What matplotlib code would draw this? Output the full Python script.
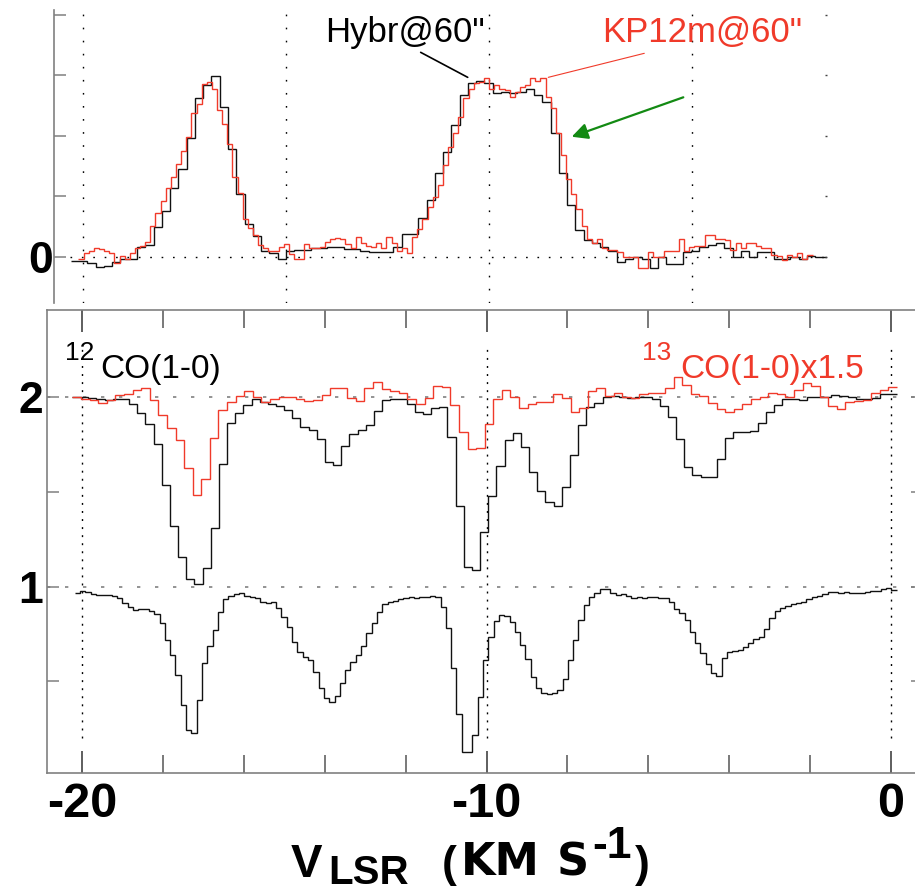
import numpy as np
import matplotlib
matplotlib.use("Agg")
import matplotlib.pyplot as plt
from matplotlib.ticker import MultipleLocator

plt.rcParams['font.family'] = ['Liberation Sans', 'DejaVu Sans']

# ---------------- data ----------------
# Top panel: emission spectra (arbitrary units, ticks at 0..4)
hybr_v0, hybr_dv = -20.308, 0.204
hybr_T = [-0.066, -0.066, -0.11, -0.165, -0.149, -0.094, -0.044, -0.044, 0.165, 0.193,
          0.496, 0.755, 1.13, 1.45, 1.97, 2.62, 2.84, 2.99, 2.48, 1.78,
          1.04, 0.535, 0.342, 0.094, 0.056, -0.038, 0.099, 0.11, 0.11, 0.138,
          0.138, 0.154, 0.154, 0.121, 0.121, 0.099, 0.072, 0.072, 0.072, 0.165,
          0.369, 0.369, 0.634, 0.937, 1.378, 1.725, 2.177, 2.67, 2.865, 2.91,
          2.865, 2.70, 2.73, 2.71, 2.73, 2.77, 2.67, 2.56, 2.04, 1.378,
          0.854, 0.44, 0.28, 0.23, 0.154, 0.10, -0.08, -0.03, -0.01, -0.03,
          -0.19, 0.0, -0.12, -0.12, 0.07, 0.10, 0.165, 0.19, 0.22, 0.14,
          0.0, 0.10, 0.0, 0.08, 0.08, -0.03, -0.03, 0.0, -0.03, 0.01,
          -0.01, -0.01]

kp12_v0, kp12_dv = -20.12, 0.1266
kp12_T = [-0.035, 0.055, 0.10, 0.14, 0.12, 0.10, 0.065, -0.10, 0.01, -0.03,
          0.055, 0.14, 0.18, 0.25, 0.50, 0.72, 0.92, 1.13, 1.32, 1.54,
          1.75, 1.98, 2.38, 2.53, 2.86, 2.89, 2.77, 2.42, 2.19, 1.87,
          1.32, 1.06, 0.62, 0.48, 0.36, 0.19, 0.15, 0.10, 0.10, 0.165,
          0.21, 0.04, -0.03, -0.03, 0.21, 0.15, 0.14, 0.165, 0.24, 0.30,
          0.31, 0.29, 0.21, 0.14, 0.33, 0.23, 0.18, 0.165, 0.23, 0.15,
          0.33, 0.22, 0.10, 0.14, 0.055, 0.32, 0.45, 0.63, 0.83, 0.98,
          1.18, 1.51, 1.82, 2.04, 2.31, 2.62, 2.78, 2.87, 2.89, 2.96,
          2.78, 2.84, 2.77, 2.76, 2.64, 2.72, 2.80, 2.84, 2.96, 2.91,
          2.96, 2.64, 2.45, 2.04, 1.68, 1.28, 1.04, 0.79, 0.50, 0.30,
          0.23, 0.29, 0.15, 0.11, 0.11, 0.07, 0.0, 0.0, 0.0, -0.19,
          -0.19, 0.07, 0.0, 0.0, 0.10, 0.10, 0.10, 0.29, 0.10, 0.165,
          0.18, 0.18, 0.36, 0.36, 0.30, 0.30, 0.27, 0.11, 0.23, 0.14,
          0.23, 0.23, 0.18, 0.14, 0.14, 0.03, 0.01, -0.055, 0.03, 0.0,
          0.065, -0.045, 0.03]

# Bottom panel: absorption spectra (offset 2: upper, offset 1: lower)
co12_v0, co12_dv = -20.258, 0.202
co12_upper = [2.000, 1.997, 1.995, 1.988, 1.983, 1.986, 1.988, 1.964, 1.916, 1.855,
              1.749, 1.535, 1.319, 1.157, 1.038, 1.012, 1.099, 1.310, 1.644, 1.863,
              1.916, 1.955, 1.988, 1.972, 1.960, 1.951, 1.930, 1.886, 1.839, 1.825,
              1.776, 1.658, 1.640, 1.742, 1.802, 1.825, 1.851, 1.925, 1.983, 1.988,
              1.986, 1.964, 1.918, 1.907, 1.942, 1.944, 1.790, 1.424, 1.105, 1.087,
              1.286, 1.479, 1.635, 1.772, 1.811, 1.737, 1.605, 1.503, 1.447, 1.426,
              1.523, 1.693, 1.851, 1.944, 1.969, 2.000, 2.006, 2.000, 1.995, 2.000,
              2.000, 1.988, 1.951, 1.895, 1.776, 1.632, 1.588, 1.579, 1.579, 1.672,
              1.784, 1.812, 1.816, 1.819, 1.860, 1.918, 1.956, 1.986, 1.988, 1.983,
              1.997, 2.000, 2.000, 2.009, 2.004, 1.997, 1.986, 1.986, 1.995, 2.013,
              2.014]

co13_v0, co13_dv = -20.244, 0.2125
co13_upper = [2.000, 1.988, 1.983, 1.969, 1.983, 2.009, 2.013, 2.035, 2.044, 1.983,
              1.904, 1.837, 1.772, 1.626, 1.482, 1.565, 1.784, 1.930, 1.974, 2.006,
              2.030, 2.000, 1.974, 1.986, 1.997, 2.000, 1.988, 1.978, 1.983, 2.009,
              2.044, 2.044, 1.992, 1.978, 2.044, 2.079, 2.041, 2.032, 2.018, 1.988,
              1.962, 1.992, 2.057, 2.051, 1.956, 1.812, 1.723, 1.732, 1.856, 1.986,
              2.035, 2.000, 1.939, 1.962, 1.974, 1.974, 2.013, 1.992, 1.921, 1.939,
              2.030, 2.044, 2.004, 2.018, 2.000, 1.992, 2.013, 2.021, 2.021, 2.044,
              2.106, 2.062, 2.013, 2.006, 1.965, 1.934, 1.921, 1.935, 1.962, 1.986,
              2.000, 2.021, 2.013, 2.000, 2.035, 2.074, 2.057, 1.997, 1.951, 1.934,
              1.970, 1.978, 1.983, 2.021, 2.035, 2.053]

low_v0, low_dv = -20.189, 0.1312
co12_lower = [0.964, 0.978, 0.973, 0.961, 0.955, 0.955, 0.955, 0.952, 0.938, 0.911,
              0.894, 0.876, 0.880, 0.880, 0.871, 0.855, 0.806, 0.718, 0.639, 0.534,
              0.376, 0.244, 0.230, 0.402, 0.595, 0.688, 0.771, 0.868, 0.933, 0.950,
              0.959, 0.964, 0.950, 0.947, 0.941, 0.920, 0.911, 0.920, 0.885, 0.841,
              0.789, 0.710, 0.657, 0.630, 0.613, 0.551, 0.464, 0.411, 0.393, 0.423,
              0.490, 0.560, 0.604, 0.639, 0.688, 0.753, 0.810, 0.868, 0.908, 0.920,
              0.924, 0.933, 0.938, 0.943, 0.941, 0.947, 0.943, 0.950, 0.947, 0.890,
              0.780, 0.569, 0.327, 0.130, 0.130, 0.218, 0.420, 0.613, 0.736, 0.820,
              0.850, 0.845, 0.815, 0.759, 0.692, 0.618, 0.525, 0.464, 0.437, 0.434,
              0.441, 0.455, 0.513, 0.613, 0.718, 0.824, 0.903, 0.947, 0.968, 0.985,
              0.985, 0.968, 0.955, 0.959, 0.950, 0.941, 0.943, 0.941, 0.947, 0.947,
              0.941, 0.938, 0.920, 0.880, 0.859, 0.824, 0.762, 0.701, 0.648, 0.592,
              0.546, 0.530, 0.622, 0.653, 0.662, 0.666, 0.683, 0.701, 0.722, 0.732,
              0.774, 0.832, 0.873, 0.885, 0.897, 0.906, 0.915, 0.920, 0.933, 0.943,
              0.950, 0.961, 0.973, 0.973, 0.968, 0.973, 0.968, 0.964, 0.968, 0.973,
              0.976, 0.978, 0.985, 0.991, 0.982]

x_ticks = [-20, -10, 0]
x_ticklabels = ['-20', '-10', '0']
top_yticks = [0, 1, 2, 3, 4]
top_yticklabels = ['0', '', '', '', '']
bot_yticks = [0.5, 1.0, 1.5, 2.0]
bot_yticklabels = ['', '1', '', '2']
top_vlines = [-20, -15, -10, -5]
bot_vlines = [-20, -10, 0]
bot_hlines = [1, 2]


def edges(v0, dv, n):
    return v0 + dv * np.arange(n + 1)


W, H = 915, 893
fig = plt.figure(figsize=(W / 100, H / 100), dpi=100)


def fx(px):
    return px / W


def fy(py):
    return 1 - py / H


BLACK = '#111111'
RED = '#f03a2a'
GREEN = '#138a13'
SPINE = '#808080'

# ---------------- top panel ----------------
axt = fig.add_axes([fx(54), fy(303), fx(827) - fx(54), fy(10) - fy(303)])
axt.set_xlim(-20.723, -1.659)
axt.set_ylim(-0.765, 4.078)
for s in ['top', 'bottom', 'right']:
    axt.spines[s].set_visible(False)
axt.spines['left'].set_color(SPINE)
axt.spines['left'].set_linewidth(1.2)
axt.set_xticks([])
axt.set_yticks(top_yticks)
axt.set_yticklabels(top_yticklabels, fontsize=32, fontweight='bold')
axt.tick_params(axis='y', direction='in', length=8.5, width=1.1, color=SPINE, pad=0.5)

axtr = axt.twinx()
axtr.set_ylim(axt.get_ylim())
for s in axtr.spines.values():
    s.set_visible(False)
axtr.set_yticks(top_yticks)
axtr.set_yticklabels([])
axtr.tick_params(axis='y', direction='in', length=1.5, width=1.0, color='#444444')

for v in top_vlines:
    axt.axvline(v, color='k', lw=1.0, ls=(0, (1.2, 8.2)), zorder=1)
axt.hlines(0, -20.33, -1.66, color='k', lw=1.0, ls=(0, (1.2, 7.0)), zorder=1)

axt.stairs(hybr_T, edges(hybr_v0, hybr_dv, len(hybr_T)), baseline=None,
           color=BLACK, lw=1.0, zorder=3)
axt.stairs(kp12_T, edges(kp12_v0, kp12_dv, len(kp12_T)), baseline=None,
           color=RED, lw=1.0, zorder=4)

axt.text(-14.04, 3.549, 'Hybr@60"', fontsize=25, color='black', ha='left', va='baseline',
         clip_on=False)
axt.text(-7.21, 3.549, 'KP12m@60"', fontsize=25, color=RED, ha='left', va='baseline',
         clip_on=False)
axt.annotate('', xy=(-10.52, 2.965), xytext=(-11.68, 3.378),
             arrowprops=dict(arrowstyle='-', color='black', lw=1.2, shrinkA=0, shrinkB=0))
axt.annotate('', xy=(-8.533, 2.965), xytext=(-6.165, 3.362),
             arrowprops=dict(arrowstyle='-', color=RED, lw=0.8, shrinkA=0, shrinkB=0))
axt.annotate('', xy=(-7.955, 1.983), xytext=(-5.203, 2.635),
             arrowprops=dict(arrowstyle='-|>', color=GREEN, lw=1.6, mutation_scale=24,
                             shrinkA=0, shrinkB=0))

# ---------------- bottom panel ----------------
axb = fig.add_axes([fx(46.5), fy(772.7), fx(916) - fx(46.5), fy(310) - fy(772.7)])
axb.set_xlim(-20.886, 0.626)
axb.set_ylim(0.019, 2.457)
for s in ['top', 'bottom', 'left']:
    axb.spines[s].set_color(SPINE)
    axb.spines[s].set_linewidth(1.2)
axb.spines['right'].set_visible(False)

axb.set_xticks(x_ticks)
axb.set_xticklabels(x_ticklabels, fontsize=35, fontweight='bold')
axb.xaxis.set_minor_locator(MultipleLocator(2))
axb.tick_params(axis='x', which='major', direction='in', top=True, length=16, width=1.1,
                color='#333333', pad=7)
axb.tick_params(axis='x', which='minor', direction='in', top=True, length=13, width=1.1,
                color='#555555')
axb.set_yticks(bot_yticks)
axb.set_yticklabels(bot_yticklabels, fontsize=32, fontweight='bold')
axb.tick_params(axis='y', direction='in', length=8.5, width=1.1, color=SPINE, pad=2.5)

axbr = axb.twinx()
axbr.set_ylim(axb.get_ylim())
for s in axbr.spines.values():
    s.set_visible(False)
axbr.set_yticks(bot_yticks)
axbr.set_yticklabels([])
axbr.tick_params(axis='y', direction='in', length=3.5, width=1.1, color=SPINE)

for h in bot_hlines:
    axb.axhline(h, color='#808080', lw=1.2, ls=(0, (2.0, 8.8)), zorder=1)
for v in bot_vlines:
    axb.axvline(v, ymin=0.075, ymax=0.925, color='k', lw=1.0, ls=(0, (1.4, 4.4)), zorder=1)

axb.stairs(co12_upper, edges(co12_v0, co12_dv, len(co12_upper)), baseline=None,
           color=BLACK, lw=1.0, zorder=3)
axb.stairs(co13_upper, edges(co13_v0, co13_dv, len(co13_upper)), baseline=None,
           color=RED, lw=1.0, zorder=4)
axb.stairs(co12_lower, edges(low_v0, low_dv, len(co12_lower)), baseline=None,
           color=BLACK, lw=1.0, zorder=3)

axb.text(-20.43, 2.193, '12', fontsize=19, color='black', ha='left', va='baseline')
axb.text(-19.56, 2.098, 'CO(1-0)', fontsize=24, color='black', ha='left', va='baseline')
axb.text(-6.16, 2.193, '13', fontsize=19, color=RED, ha='left', va='baseline')
axb.text(-5.21, 2.098, 'CO(1-0)x1.5', fontsize=24, color=RED, ha='left', va='baseline')

# ---------------- x-axis label, composed ----------------
lab = dict(fontweight='bold', color='black', ha='left', va='baseline')
fig.text(fx(291), fy(877), 'V', fontsize=34, **lab)
fig.text(fx(328), fy(884), 'LSR', fontsize=29, **lab)
fig.text(fx(442), fy(877), '(', fontsize=32, **lab)
fig.text(fx(461), fy(875), 'KM', fontsize=32, family=['DejaVu Sans'], **lab)
fig.text(fx(557), fy(875), 'S', fontsize=32, family=['DejaVu Sans'], **lab)
fig.text(fx(592), fy(858), '-1', fontsize=32, **lab)
fig.text(fx(635), fy(877), ')', fontsize=32, **lab)

fig.savefig('out.png', dpi=100)
